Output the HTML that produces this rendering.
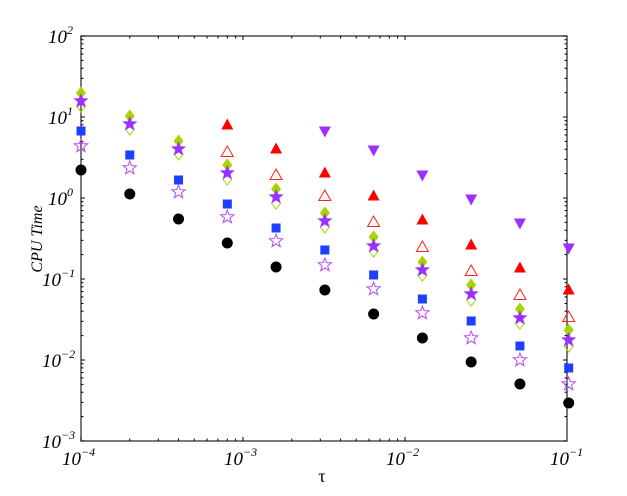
<!DOCTYPE html>
<html><head><style>body{margin:0;background:#fff}svg{display:block}text{font-family:"Liberation Serif",serif}</style></head>
<body>
<svg id="s" width="627" height="496" xmlns="http://www.w3.org/2000/svg">
<rect x="81" y="36" width="486" height="405" fill="none" stroke="#333" stroke-width="1.3"/>
<g id="ticks" stroke="#000" stroke-width="1"></g>
<g font-size="19" font-style="italic">
<text x="62" y="465">10<tspan font-size="12" dy="-9">−4</tspan></text>
<text x="224" y="465">10<tspan font-size="12" dy="-9">−3</tspan></text>
<text x="386" y="465">10<tspan font-size="12" dy="-9">−2</tspan></text>
<text x="550" y="465">10<tspan font-size="12" dy="-9">−1</tspan></text>
<text x="42" y="448">10<tspan font-size="12" dy="-9">−3</tspan></text>
<text x="42" y="367">10<tspan font-size="12" dy="-9">−2</tspan></text>
<text x="42" y="286">10<tspan font-size="12" dy="-9">−1</tspan></text>
<text x="48" y="205">10<tspan font-size="12" dy="-9">0</tspan></text>
<text x="48" y="124">10<tspan font-size="12" dy="-9">1</tspan></text>
<text x="48" y="43">10<tspan font-size="12" dy="-9">2</tspan></text>
</g>
<text x="322" y="482" font-size="18" text-anchor="middle">τ</text>
<text transform="translate(42,239) rotate(-90)" font-size="16" font-style="italic" text-anchor="middle">CPU Time</text>
<g id="d"></g>
</svg>
<script>
var ns="http://www.w3.org/2000/svg",t=document.getElementById("ticks"),d=document.getElementById("d");
function ln(x1,y1,x2,y2){var l=document.createElementNS(ns,"line");l.setAttribute("x1",x1);l.setAttribute("y1",y1);l.setAttribute("x2",x2);l.setAttribute("y2",y2);t.appendChild(l);}
for(var e=0;e<3;e++)for(var m=1;m<=10;m++){if(e==2&&m>1)break;var x=81+(e+Math.log10(m))*162;var L=(m==1||m==10)?4:2.5;ln(x,441,x,441-L);ln(x,36,x,36+L);}
for(var e=0;e<5;e++)for(var m=1;m<=10;m++){var y=441-(e+Math.log10(m))*81;var L=(m==1||m==10)?4:2.5;ln(81,y,81+L,y);ln(567,y,567-L,y);}
function X(k){return 81+k*48.77;}
function el(tag,a){var o=document.createElementNS(ns,tag);for(var k in a)o.setAttribute(k,a[k]);d.appendChild(o);}
function star(cx,cy,r){var p=[];for(var i=0;i<10;i++){var rr=i%2?r*0.42:r;var a=-Math.PI/2+i*Math.PI/5;p.push((cx+rr*Math.cos(a)).toFixed(1)+","+(cy+rr*Math.sin(a)).toFixed(1));}return p.join(" ");}
function S(k0,ys,f){ys.forEach(function(y,i){f(X(k0+i),y);});}
S(0,[170,194,219,243,267,290,314,338,362,384,403],function(x,y){el("circle",{cx:x,cy:y,r:5.5,fill:"#000"});});
S(0,[131,155,180,204,228,250,275,299,321,346,368],function(x,y){el("rect",{x:x-4.5,y:y-4.5,width:9,height:9,fill:"#1f3fff"});});
S(0,[146,168,192,217,241,265,289,313,338,360,384],function(x,y){el("polygon",{points:star(x,y,7),fill:"none",stroke:"#b44cff","stroke-width":1});});
S(0,[106,129,154,179,203,227,251,275,300,323,346],function(x,y){el("polygon",{points:(x)+","+(y-6)+" "+(x+4.5)+","+y+" "+x+","+(y+6)+" "+(x-4.5)+","+y,fill:"none",stroke:"#a8d400","stroke-width":1});});
S(0,[93,116,141,165,189,213,237,262,285,309,330],function(x,y){el("polygon",{points:(x)+","+(y-6.5)+" "+(x+5)+","+y+" "+x+","+(y+6.5)+" "+(x-5)+","+y,fill:"#a8d400"});});
S(0,[101,124,149,173,197,221,246,270,294,318,340],function(x,y){el("polygon",{points:star(x,y,8),fill:"#9b30ff"});});
S(3,[152,175,196,222,247,271,295,317],function(x,y){el("polygon",{points:x+","+(y-6)+" "+(x+6)+","+(y+4.5)+" "+(x-6)+","+(y+4.5),fill:"none",stroke:"#ff2020","stroke-width":1});});
S(3,[125,149,173,196,220,245,268,290],function(x,y){el("polygon",{points:x+","+(y-6.5)+" "+(x+6)+","+(y+4.5)+" "+(x-6)+","+(y+4.5),fill:"#ff0000"});});
S(5,[131,150,175,199,223,248],function(x,y){el("polygon",{points:x+","+(y+6.5)+" "+(x+6)+","+(y-4.5)+" "+(x-6)+","+(y-4.5),fill:"#9b30ff"});});
</script>
</body></html>
